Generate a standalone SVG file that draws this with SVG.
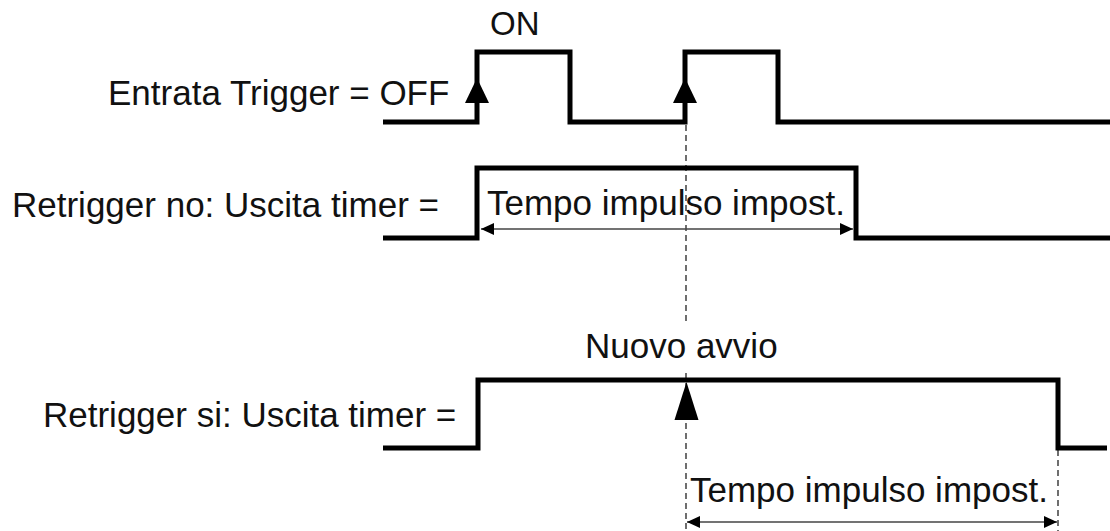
<svg xmlns="http://www.w3.org/2000/svg" width="1110" height="531" viewBox="0 0 1110 531">
<style>
  .t { font-family: "Liberation Sans", Arial, sans-serif; font-size: 35px; fill: #111; }
  .wave { fill: none; stroke: #000; stroke-width: 5; stroke-linejoin: miter; stroke-linecap: butt; }
  .dash { fill: none; stroke: #222; stroke-width: 1.3; stroke-dasharray: 6 4; }
  .dim { fill: none; stroke: #444; stroke-width: 1.6; }
  .trig { fill: #000; }
</style>
<defs>
  <marker id="ah" viewBox="0 0 13 12" refX="13" refY="6" markerWidth="13" markerHeight="12" markerUnits="userSpaceOnUse" orient="auto-start-reverse">
    <path d="M0,0 L13,6 L0,12 Z" fill="#000"/>
  </marker>
</defs>
<rect width="1110" height="531" fill="#fff"/>

<g id="labels">
  <g id="label-trigger"><text class="t" x="108" y="105">Entrata Trigger = OFF</text></g>
  <g id="label-on"><text class="t" x="490" y="35" style="font-size:33px">ON</text></g>
  <g id="label-retrig-no"><text class="t" x="12" y="217">Retrigger no: Uscita timer =</text></g>
  <g id="label-tempo1"><text class="t" x="487" y="215">Tempo impulso impost.</text></g>
  <g id="label-nuovo"><text class="t" x="585" y="358">Nuovo avvio</text></g>
  <g id="label-retrig-si"><text class="t" x="43" y="427">Retrigger si: Uscita timer =</text></g>
  <g id="label-tempo2"><text class="t" x="690" y="502">Tempo impulso impost.</text></g>
</g>

<g id="connectors">
  <path class="dash" d="M686,125 V322"/>
  <path class="dash" d="M686,373 V531"/>
  <path class="dash" d="M1058,450 V531"/>

  <path id="wave-trigger" class="wave" d="M383,122 H477 V52 H570 V122 H685 V52 H778 V122 H1110"/>
  <path id="wave-no" class="wave" d="M383,238 H477 V168 H856 V238 H1110"/>
  <path id="wave-si" class="wave" d="M383,448 H478 V380 H1058 V448 H1107"/>

  <path class="trig" d="M477,78 L465,103 L489,103 Z"/>
  <path class="trig" d="M685,78 L673,103 L697,103 Z"/>
  <path class="trig" d="M686.5,382 L674.5,420 L698.5,420 Z"/>

  <path class="dim" d="M481,229 H853" marker-start="url(#ah)" marker-end="url(#ah)"/>
  <path class="dim" d="M687,522 H1057" marker-start="url(#ah)" marker-end="url(#ah)"/>
</g>
</svg>
